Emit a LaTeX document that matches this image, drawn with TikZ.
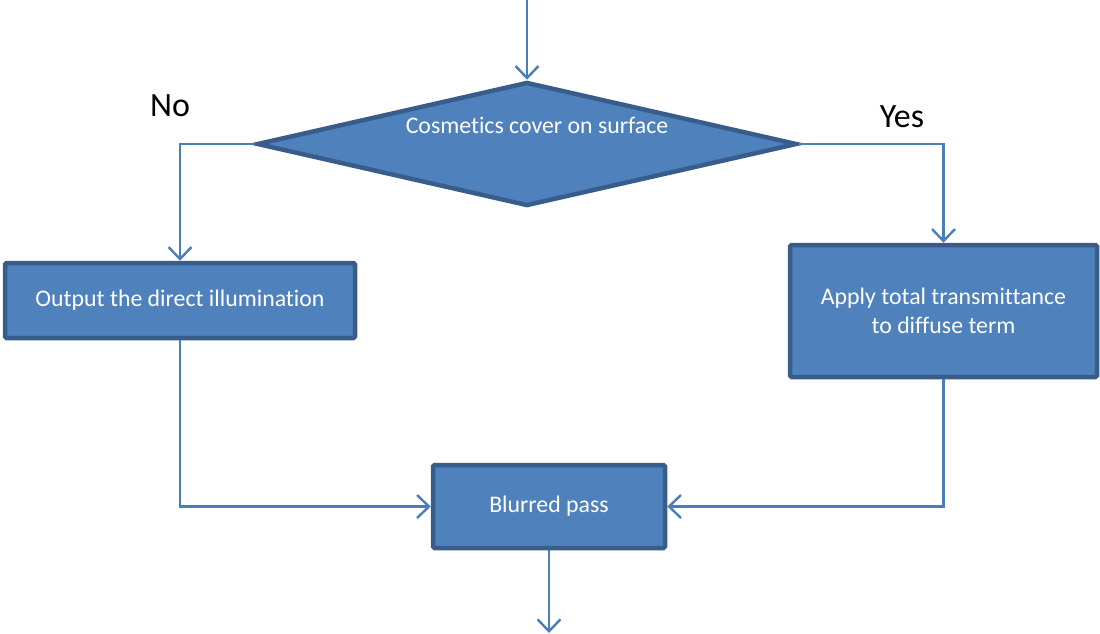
\documentclass[tikz,border=0pt]{standalone}
\usepackage{fontspec}
\setmainfont[Ligatures=CommonOff]{Carlito}
\usetikzlibrary{shapes.geometric,arrows.meta}
\definecolor{boxfill}{HTML}{4F81BD}
\definecolor{boxedge}{HTML}{385D8A}
\definecolor{wire}{HTML}{4A7EBB}
\tikzset{
  flowbox/.style={draw=boxedge, fill=boxfill, line width=4.5pt, rounded corners=1.5pt,
    text=white, font=\fontsize{23.8}{29}\selectfont, align=center, inner sep=0pt},
  decision/.style={diamond, draw=boxedge, fill=boxfill, line width=4.5pt,
    inner sep=0pt, line join=miter},
  wireline/.style={draw=wire, line width=2.4pt, -{Straight Barb[length=12pt,width=23pt,line width=2.4pt]}},
  answer/.style={font=\fontsize{34}{40}\selectfont, text=black, inner sep=0pt}
}
\begin{document}
\begin{tikzpicture}[x=1pt,y=-1pt]
\useasboundingbox (0,0) rectangle (1100,633);
% decision
\node[decision, minimum width=540pt, minimum height=124pt] (cover) at (527,144) {};
\node[text=white, font=\fontsize{23.8}{29}\selectfont, inner sep=0pt] (covertext) at (537,125) {Cosmetics cover on surface};
% process boxes
\node[flowbox, minimum width=350pt, minimum height=75pt] (direct) at (180,300.5) {Output the direct illumination};
\node[flowbox, minimum width=307pt, minimum height=132pt] (trans) at (943.5,311) {Apply total transmittance\\to diffuse term};
\node[flowbox, minimum width=232pt, minimum height=83pt] (blur) at (549,506.5) {Blurred pass};
% labels
\node[answer] (no) at (170,106) {No};
\node[answer] (yes) at (902,117) {Yes};
% connectors
\coordinate (entry) at (527,0);
\coordinate (exit) at (549,633);
\draw[wireline] (entry) -- (cover.north);
\draw[wireline] (cover.west) -| (direct.north);
\draw[wireline] (cover.east) -| (trans.north);
\draw[wireline] (direct.south) |- (blur.west);
\draw[wireline] (trans.south) |- (blur.east);
\draw[wireline] (blur.south) -- (exit);
\end{tikzpicture}
\end{document}
